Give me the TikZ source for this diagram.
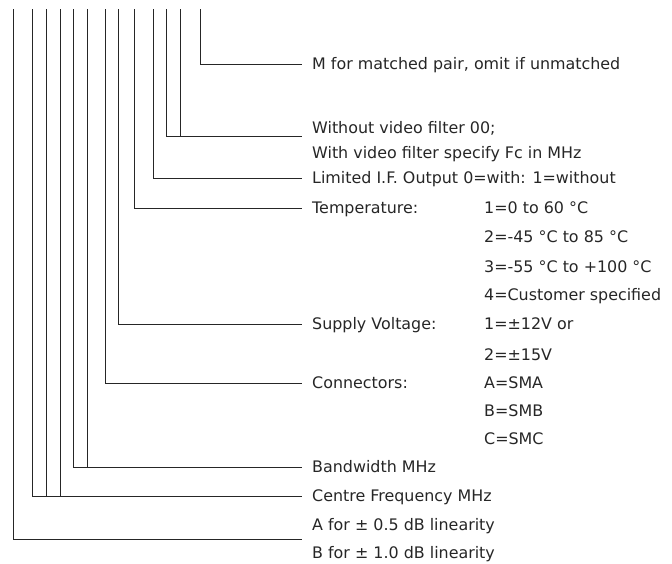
\documentclass[tikz,border=0pt]{standalone}
\usepackage{fontspec}
\setmainfont{DejaVu Sans}
\begin{document}
\begin{tikzpicture}[x=1pt,y=-1pt,
  wire/.style={line width=0.9pt, draw=black!85},
  lbl/.style={anchor=west, inner xsep=10pt, inner ysep=0pt, text height=11.5pt, text depth=0pt,
              font=\fontsize{15.9}{18}\selectfont, text=black!85},
  val/.style={lbl, inner xsep=0pt}]
\useasboundingbox (0,0) rectangle (672,563);
% label nodes (first column)
\node[lbl] (m)    at (302,64)  {M for matched pair, omit if unmatched};
\node[lbl] (vf1)  at (302,128) {Without video filter 00;};
\node[lbl] (vf2)  at (302,153) {With video filter specify Fc in MHz};
\node[lbl] (lim)  at (302,178) {Limited I.F. Output 0=with: 1=without};
\node[lbl] (temp) at (302,208) {Temperature:};
\node[lbl] (sup)  at (302,324) {Supply Voltage:};
\node[lbl] (con)  at (302,383) {Connectors:};
\node[lbl] (bw)   at (302,467) {Bandwidth MHz};
\node[lbl] (cf)   at (302,496) {Centre Frequency MHz};
\node[lbl] (la)   at (302,525) {A for ± 0.5 dB linearity};
\node[lbl] (lb)   at (302,553) {B for ± 1.0 dB linearity};
% second column
\node[val] (t1) at (484,208) {1=0 to 60 °C};
\node[val] (t2) at (484,237) {2=-45 °C to 85 °C};
\node[val] (t3) at (484,267) {3=-55 °C to +100 °C};
\node[val] (t4) at (484,295) {4=Customer specified};
\node[val] (s1) at (484,324) {1=±12V or};
\node[val] (s2) at (484,355) {2=±15V};
\node[val] (c1) at (484,383) {A=SMA};
\node[val] (c2) at (484,411) {B=SMB};
\node[val] (c3) at (484,439) {C=SMC};
% connector ends for two-line labels
\coordinate (vfE)  at (302,136);
\coordinate (linE) at (302,539);
% tops of the vertical lines
\coordinate (v1)  at (13,9);
\coordinate (v2)  at (32,9);
\coordinate (v3)  at (46,9);
\coordinate (v4)  at (60,9);
\coordinate (v5)  at (73,9);
\coordinate (v6)  at (87,9);
\coordinate (v7)  at (105,9);
\coordinate (v8)  at (118,9);
\coordinate (v9)  at (134,9);
\coordinate (v10) at (153,9);
\coordinate (v11) at (166,9);
\coordinate (v12) at (180,9);
\coordinate (v13) at (200,9);
% connectors
\draw[wire] (v1)  |- (linE);
\draw[wire] (v2)  |- (cf.west);
\draw[wire] (v3)  |- (cf.west);
\draw[wire] (v4)  |- (cf.west);
\draw[wire] (v5)  |- (bw.west);
\draw[wire] (v6)  |- (bw.west);
\draw[wire] (v7)  |- (con.west);
\draw[wire] (v8)  |- (sup.west);
\draw[wire] (v9)  |- (temp.west);
\draw[wire] (v10) |- (lim.west);
\draw[wire] (v11) |- (vfE);
\draw[wire] (v12) |- (vfE);
\draw[wire] (v13) |- (m.west);
\end{tikzpicture}
\end{document}
